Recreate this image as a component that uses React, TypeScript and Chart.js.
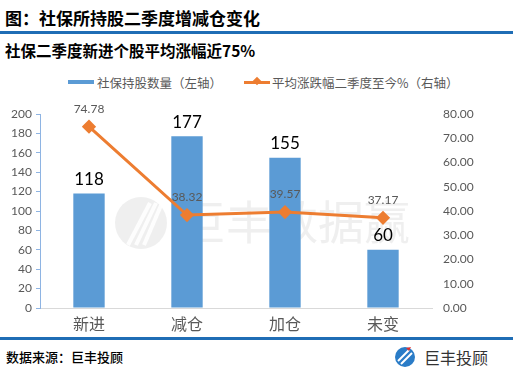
import React, { useEffect, useRef } from "react";
import { Chart, registerables } from "chart.js";

Chart.register(...registerables);

const categories = ["新进", "减仓", "加仓", "未变"];
const holdingCounts = [118, 177, 155, 60];
const avgChange = [74.78, 38.32, 39.57, 37.17];
const barLabel = "社保持股数量（左轴）";
const lineLabel = "平均涨跌幅二季度至今%（右轴）";
const title = "图：社保所持股二季度增减仓变化";
const subtitle = "社保二季度新进个股平均涨幅近75%";
const source = "数据来源：巨丰投顾";
const brand = "巨丰投顾";
const watermark = "巨丰数据赢";

const BLUE = "#5b9bd5";
const ORANGE = "#ed7d31";
const GRAY = "#595959";
const CJK = '"Noto Sans CJK SC", sans-serif';
const NUM = 'Lato, "Noto Sans CJK SC", sans-serif';

const watermarkPlugin = {
  id: "watermark",
  beforeDatasetsDraw(chart: any) {
    const ctx = chart.ctx;
    ctx.save();
    ctx.fillStyle = "rgba(225,225,225,0.55)";
    ctx.beginPath();
    ctx.arc(141, 128, 26, 0, Math.PI * 2);
    ctx.fill();
    ctx.strokeStyle = "rgba(255,255,255,0.9)";
    ctx.lineWidth = 4;
    for (let i = 0; i < 3; i++) {
      ctx.beginPath();
      ctx.moveTo(128 + i * 8, 150);
      ctx.lineTo(150 + i * 6, 108);
      ctx.stroke();
    }
    ctx.fillStyle = "rgba(225,225,225,0.55)";
    ctx.font = `46px ${CJK}`;
    ctx.textBaseline = "middle";
    ctx.textAlign = "left";
    ctx.fillText(watermark, 180, 127);
    ctx.restore();
  },
};

const labelsPlugin = {
  id: "valueLabels",
  afterDatasetsDraw(chart: any) {
    const ctx = chart.ctx;
    ctx.save();
    ctx.textAlign = "center";
    ctx.textBaseline = "middle";
    const barMeta = chart.getDatasetMeta(0);
    ctx.font = `17px ${NUM}`;
    ctx.fillStyle = "#000";
    barMeta.data.forEach((el: any, i: number) => {
      ctx.fillText(String(holdingCounts[i]), el.x, el.y - 14);
    });
    const lineMeta = chart.getDatasetMeta(1);
    ctx.font = `12px ${NUM}`;
    ctx.fillStyle = GRAY;
    lineMeta.data.forEach((el: any, i: number) => {
      ctx.fillText(avgChange[i].toFixed(2), el.x, el.y - 18);
    });
    ctx.restore();
  },
};

export default function App() {
  const ref = useRef<HTMLCanvasElement>(null);

  useEffect(() => {
    document.body.style.margin = "0";
    const chart = new Chart(ref.current!, {
      data: {
        labels: categories,
        datasets: [
          {
            type: "bar",
            label: barLabel,
            data: holdingCounts,
            backgroundColor: BLUE,
            yAxisID: "y",
            order: 1,
            categoryPercentage: 1,
            barPercentage: 0.32,
          },
          {
            type: "line",
            label: lineLabel,
            data: avgChange,
            borderColor: ORANGE,
            backgroundColor: ORANGE,
            borderWidth: 3,
            pointStyle: "rectRot",
            pointRadius: 5,
            pointBackgroundColor: ORANGE,
            pointBorderColor: ORANGE,
            yAxisID: "y1",
            order: 0,
            tension: 0,
          },
        ],
      } as any,
      options: {
        animation: false,
        responsive: true,
        maintainAspectRatio: false,
        layout: { padding: { top: 19, left: 0, right: 0, bottom: 0 } },
        plugins: {
          legend: { display: false },
          tooltip: { enabled: false },
        },
        scales: {
          x: {
            grid: { display: false, drawTicks: false },
            border: { display: true, color: "#d9d9d9", width: 1 },
            ticks: { color: GRAY, font: { size: 16, family: CJK }, padding: 6 },
            afterFit(s: any) {
              s.height = 29;
            },
          },
          y: {
            position: "left",
            min: 0,
            max: 200,
            ticks: { stepSize: 20, color: GRAY, font: { size: 12, family: NUM }, padding: 4 },
            grid: { display: true, drawOnChartArea: false, drawTicks: true, tickLength: 4, color: "#8eb4e3" },
            border: { display: true, color: "#8eb4e3", width: 1 },
            afterFit(s: any) {
              s.width = 40;
            },
          },
          y1: {
            position: "right",
            min: 0,
            max: 80,
            ticks: {
              stepSize: 10,
              color: GRAY,
              font: { size: 12, family: NUM },
              padding: 11,
              callback: (v: any) => Number(v).toFixed(2),
            },
            grid: { display: false, drawTicks: false },
            border: { display: false },
            afterFit(s: any) {
              s.width = 81;
            },
          },
        },
      } as any,
      plugins: [watermarkPlugin, labelsPlugin],
    });
    return () => chart.destroy();
  }, []);

  return (
    <div style={{ position: "relative", width: 513, height: 373, background: "#fff", overflow: "hidden", fontFamily: CJK }}>
      <div style={{ position: "absolute", left: 5, top: 6, fontSize: 17, fontWeight: 700, color: "#000", lineHeight: "24px", whiteSpace: "nowrap" }}>
        {title}
      </div>
      <div style={{ position: "absolute", left: 0, top: 31, width: 513, height: 3, background: "#1f6db5" }} />
      <div style={{ position: "absolute", left: 5, top: 39, fontSize: 15.5, fontWeight: 700, color: "#000", lineHeight: "22px", whiteSpace: "nowrap" }}>
        {subtitle}
      </div>
      <div style={{ position: "absolute", left: 68, top: 72, height: 20, display: "flex", alignItems: "center", fontSize: 12.5, color: GRAY, whiteSpace: "nowrap" }}>
        <div style={{ width: 26, height: 4, background: BLUE, marginRight: 3 }} />
        <span>{barLabel}</span>
        <div style={{ position: "relative", width: 26, height: 3, background: ORANGE, marginLeft: 22, marginRight: 2 }}>
          <div style={{ position: "absolute", left: 10, top: -2.5, width: 6, height: 6, background: ORANGE, transform: "rotate(45deg)" }} />
        </div>
        <span>{lineLabel}</span>
      </div>
      <div style={{ position: "absolute", left: 0, top: 95, width: 513, height: 242 }}>
        <canvas ref={ref} />
      </div>
      <div style={{ position: "absolute", left: 0, top: 337, width: 513, height: 3, background: "#1f6db5" }} />
      <div style={{ position: "absolute", left: 6, top: 347, fontSize: 13, color: "#000", lineHeight: "20px", whiteSpace: "nowrap", fontWeight: 500 }}>
        {source}
      </div>
      <svg style={{ position: "absolute", left: 394, top: 346 }} width="22" height="22" viewBox="0 0 22 22">
        <circle cx="11" cy="11" r="10" fill="#2a7cc7" />
        <path d="M4 15 L15 4" stroke="#fff" strokeWidth="2" />
        <path d="M7 18 L18 7" stroke="#fff" strokeWidth="2" />
        <path d="M12 2 L17 1 L15 5 Z" fill="#e03030" />
      </svg>
      <div style={{ position: "absolute", left: 424, top: 346, fontSize: 16, color: "#333", lineHeight: "22px", whiteSpace: "nowrap" }}>
        {brand}
      </div>
    </div>
  );
}
